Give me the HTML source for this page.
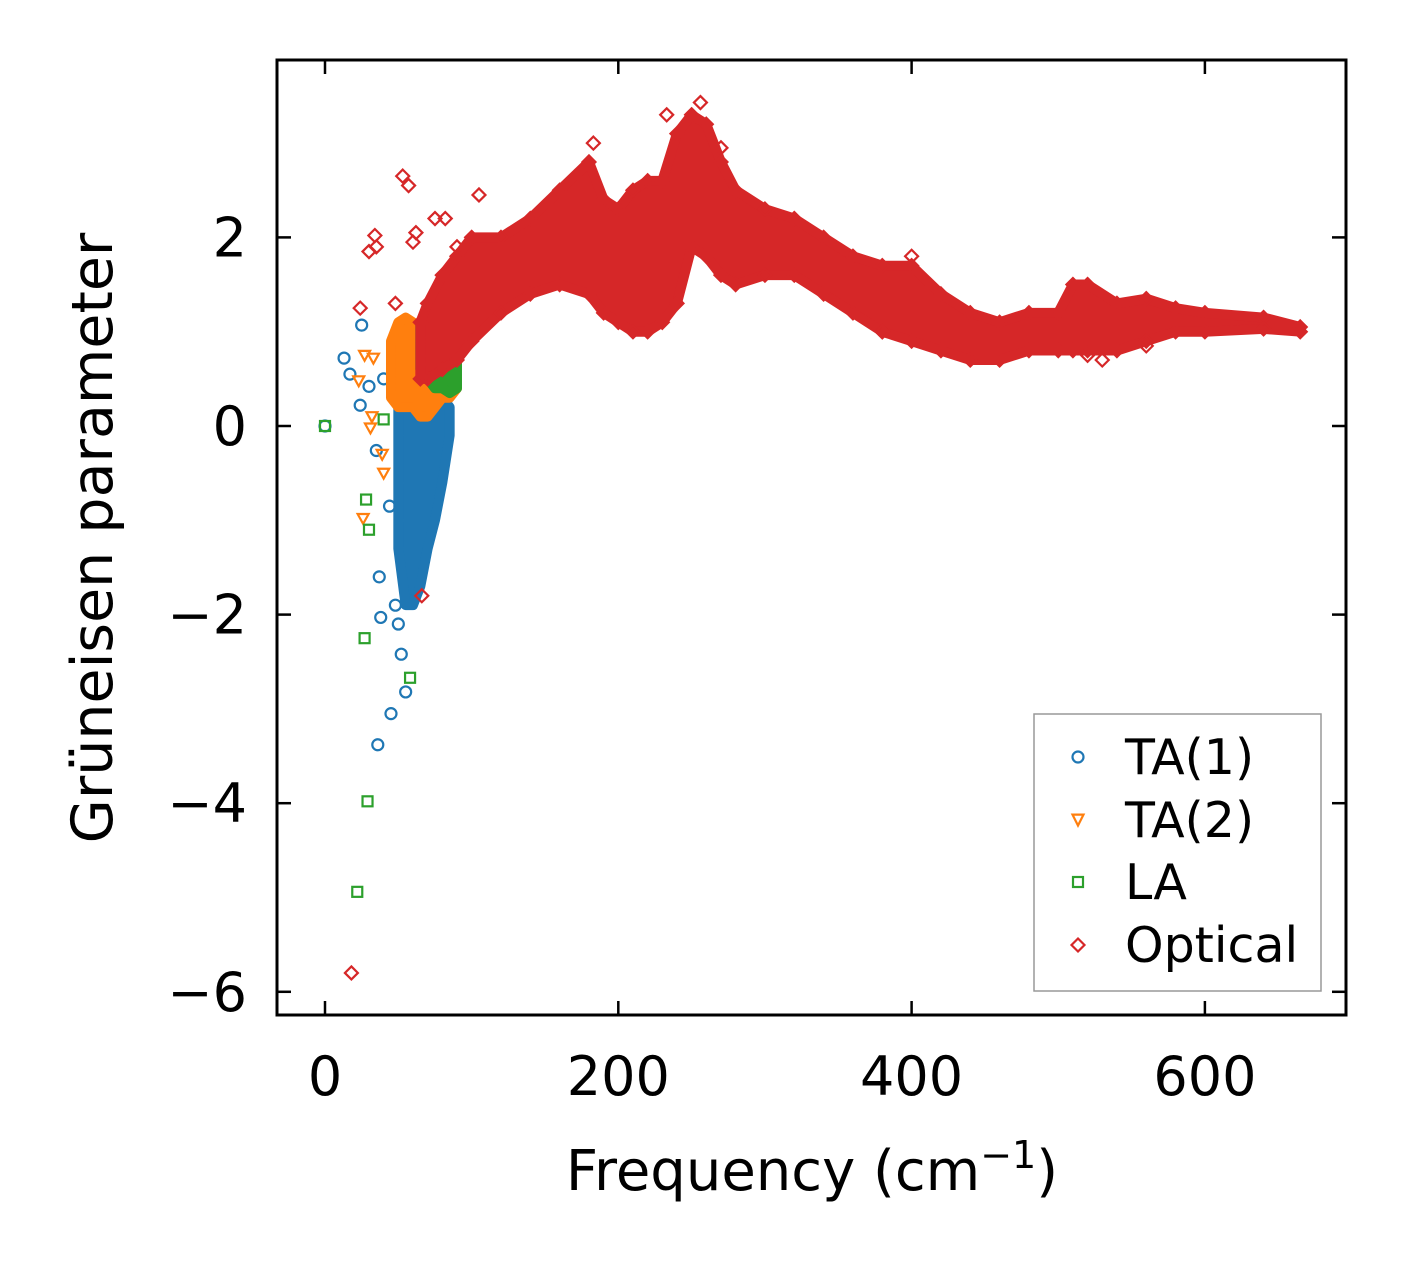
<!DOCTYPE html>
<html><head><meta charset="utf-8"><style>
html,body{margin:0;padding:0;background:#fff;}
svg{display:block;font-family:"DejaVu Sans","Liberation Sans",sans-serif;}
</style></head><body>
<svg id="chart" width="1406" height="1264" viewBox="0 0 1406 1264"></svg>
<script>
// ---- data ----
const xTicks=[0,200,400,600];
const yTicks=[-6,-4,-2,0,2];
const yTickLabels=["\u22126","\u22124","\u22122","0","2"];
const opticalFreq=[65,70,80,90,100,120,140,160,180,190,200,210,220,230,240,250,260,270,280,300,320,340,360,380,400,420,440,460,480,500,510,520,540,560,580,600,640,665];
const opticalUpper=[1.1,1.3,1.6,1.8,2.0,2.0,2.2,2.5,2.8,2.4,2.3,2.5,2.6,2.6,3.1,3.3,3.2,2.8,2.5,2.3,2.2,2.0,1.8,1.7,1.7,1.4,1.2,1.1,1.2,1.2,1.5,1.5,1.3,1.35,1.25,1.2,1.15,1.05];
const opticalLower=[0.5,0.5,0.6,0.7,0.9,1.2,1.4,1.5,1.4,1.2,1.1,1.0,1.0,1.1,1.3,1.9,1.8,1.6,1.5,1.6,1.6,1.4,1.2,1.0,0.9,0.8,0.7,0.7,0.8,0.8,0.8,0.8,0.8,0.9,1.0,1.0,1.03,1.0];
const ta1Freq=[50,55,60,65,70,75,80,85];
const ta1Upper=[0.5,0.35,0.35,0.3,0.3,0.3,0.3,0.2];
const ta1Lower=[-1.3,-1.9,-1.9,-1.7,-1.3,-1.0,-0.6,-0.1];
const ta2Freq=[45,50,55,60,65,70,75,80,85,90];
const ta2Upper=[0.9,1.1,1.15,1.1,1.0,0.9,0.8,0.7,0.6,0.5];
const ta2Lower=[0.3,0.2,0.2,0.2,0.1,0.1,0.2,0.3,0.3,0.4];
const laFreq=[65,70,75,80,85,90];
const laUpper=[1.1,1.15,1.1,1.0,0.95,0.9];
const laLower=[0.6,0.5,0.4,0.4,0.35,0.4];
const ta1X=[0,13,17,24,25,30,35,37,38,36,45,52,55,48,58,40,44,50];
const ta1Y=[0,0.72,0.55,0.22,1.07,0.42,-0.26,-1.6,-2.03,-3.38,-3.05,-2.42,-2.82,-1.9,0.9,0.5,-0.85,-2.1];
const ta2X=[27,33,23,32,31,26,40,39];
const ta2Y=[0.75,0.72,0.48,0.1,-0.02,-0.98,-0.5,-0.3];
const laX=[0,27,29,22,58,28,30,40];
const laY=[0,-2.25,-3.98,-4.94,-2.67,-0.78,-1.1,0.07];
const optX=[18,24,30,34,35,53,57,48,60,62,66,75,82,90,105,183,233,256,270,400,380,520,560,530];
const optY=[-5.8,1.25,1.85,2.02,1.9,2.65,2.55,1.3,1.95,2.05,-1.8,2.2,2.2,1.9,2.45,3.0,3.3,3.43,2.95,1.8,1.0,0.75,0.85,0.7];

const L=277,R=1346,T=60,B=1015;
const sx=v=>325+v*1.4665;
const sy=v=>426-v*94.3;
const svg=document.getElementById('chart');
const NS='http://www.w3.org/2000/svg';
function mk(tag,attrs,parent){const e=document.createElementNS(NS,tag);for(const k in attrs)e.setAttribute(k,attrs[k]);(parent||svg).appendChild(e);return e;}
const C={b:'#1f77b4',o:'#ff7f0e',g:'#2ca02c',r:'#d62728'};

function band(fr,up,lo,col,name){
  let pts=fr.map((f,i)=>sx(f)+','+sy(up[i]));
  for(let i=fr.length-1;i>=0;i--)pts.push(sx(fr[i])+','+sy(lo[i]));
  const p=mk('polygon',{points:pts.join(' '),fill:col,stroke:col,'stroke-width':10,'stroke-linejoin':'round'});
  
  
}
function marker(type,x,y,col,parent){
  let e;const s=5.5;
  if(type==='o')e=mk('circle',{cx:x,cy:y,r:s},parent);
  else if(type==='v')e=mk('polygon',{points:`${x-s},${y-s*0.8} ${x+s},${y-s*0.8} ${x},${y+s}`},parent);
  else if(type==='s')e=mk('rect',{x:x-s+0.5,y:y-s+0.5,width:2*s-1,height:2*s-1},parent);
  else e=mk('polygon',{points:`${x},${y-s-1} ${x+s+1},${y} ${x},${y+s+1} ${x-s-1},${y}`},parent);
  e.setAttribute('fill','none');e.setAttribute('stroke',col);e.setAttribute('stroke-width',2.2);
  return e;
}
function series(xs,ys,type,col,name){
  const g=mk('g',{});
  
  
  xs.forEach((x,i)=>marker(type,sx(x),sy(ys[i]),col,g));
}
series(ta1X,ta1Y,'o',C.b,'ta1-points');
series(ta2X,ta2Y,'v',C.o,'ta2-points');
band(ta1Freq,ta1Upper,ta1Lower,C.b,'ta1-band');
band(ta2Freq,ta2Upper,ta2Lower,C.o,'ta2-band');
band(laFreq,laUpper,laLower,C.g,'la-band');
series(laX,laY,'s',C.g,'la-points');
band(opticalFreq,opticalUpper,opticalLower,C.r,'optical-band');
series(optX,optY,'d',C.r,'optical-points');
series(opticalFreq,opticalUpper,'d',C.r,'optical-upper-edge');
series(opticalFreq,opticalLower,'d',C.r,'optical-lower-edge');

const f=mk('rect',{x:L,y:T,width:R-L,height:B-T,fill:'none',stroke:'#000','stroke-width':3});

xTicks.forEach(v=>{
  const x=sx(v);
  mk('line',{x1:x,y1:B,x2:x,y2:B-14,stroke:'#000','stroke-width':2.5});
  mk('line',{x1:x,y1:T,x2:x,y2:T+14,stroke:'#000','stroke-width':2.5});
  const t=mk('text',{x:x,y:1095,'font-size':54,'text-anchor':'middle'});t.textContent=v;
  
});
yTicks.forEach((v,i)=>{
  const y=sy(v);
  mk('line',{x1:L,y1:y,x2:L+14,y2:y,stroke:'#000','stroke-width':2.5});
  mk('line',{x1:R,y1:y,x2:R-14,y2:y,stroke:'#000','stroke-width':2.5});
  const t=mk('text',{x:247,y:y+19,'font-size':54,'text-anchor':'end'});t.textContent=yTickLabels[i];
  
});
</script>
<svg style="position:absolute;left:0;top:0" width="1406" height="1264">
<text x="812" y="1190" font-size="56" text-anchor="middle" font-family="DejaVu Sans,Liberation Sans,sans-serif">Frequency (cm<tspan dy="-22" font-size="38">−1</tspan><tspan dy="22">)</tspan></text>
<text transform="translate(112,538) rotate(-90)" font-size="57" text-anchor="middle" font-family="DejaVu Sans,Liberation Sans,sans-serif">Grüneisen parameter</text>
<g font-family="DejaVu Sans,Liberation Sans,sans-serif" font-size="49">
<rect x="1034" y="714" width="287" height="277" fill="#fff" stroke="#999" stroke-width="1.5"/>
<g><circle cx="1078" cy="757" r="5.5" fill="none" stroke="#1f77b4" stroke-width="2.2"/><text x="1125" y="774">TA(1)</text></g>
<g><polygon points="1072.5,814.6 1083.5,814.6 1078,825.5" fill="none" stroke="#ff7f0e" stroke-width="2.2"/><text x="1125" y="837">TA(2)</text></g>
<g><rect x="1073" y="877" width="10" height="10" fill="none" stroke="#2ca02c" stroke-width="2.2"/><text x="1125" y="899">LA</text></g>
<g><polygon points="1078,938.5 1084.5,945 1078,951.5 1071.5,945" fill="none" stroke="#d62728" stroke-width="2.2"/><text x="1125" y="962">Optical</text></g>
</g>
</svg>
</body></html>
